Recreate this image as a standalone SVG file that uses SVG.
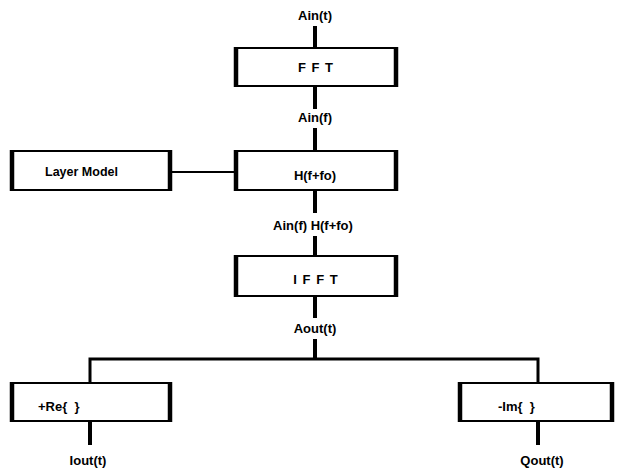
<svg xmlns="http://www.w3.org/2000/svg" width="618" height="472" viewBox="0 0 618 472">
<style>
.box{fill:#fff;stroke:#000;stroke-width:2}
.side{stroke:#000;stroke-width:4.5}
.wire{stroke:#000;stroke-width:4;fill:none}
.thin{stroke:#000;stroke-width:2;fill:none}
.mid{stroke:#000;stroke-width:3;fill:none}
text{font-family:"Liberation Sans",Arial,sans-serif;font-weight:bold;font-size:13px;fill:#000}
.c{text-anchor:middle}
</style>
<rect width="618" height="472" fill="#fff"/>
<g id="connectors">
<line class="wire" x1="315" y1="26" x2="315" y2="48"/>
<line class="wire" x1="315" y1="86" x2="315" y2="109"/>
<line class="wire" x1="315" y1="128" x2="315" y2="151"/>
<line class="wire" x1="315" y1="190" x2="315" y2="213"/>
<line class="wire" x1="315" y1="236" x2="315" y2="256"/>
<line class="wire" x1="315" y1="296" x2="315" y2="318"/>
<line class="wire" x1="315" y1="339" x2="315" y2="359"/>
<line class="thin" x1="172" y1="172" x2="234" y2="172"/>
<polyline class="mid" points="90,383 90,359 538,359 538,383"/>
<line class="wire" x1="90" y1="421" x2="90" y2="445"/>
<line class="wire" x1="538" y1="421" x2="538" y2="445"/>
<text class="c" x="315" y="20">Ain(t)</text>
<text class="c" x="315" y="122">Ain(f)</text>
<text class="c" x="313" y="230">Ain(f) H(f+fo)</text>
<text class="c" x="315" y="333">Aout(t)</text>
<text class="c" x="88" y="465">Iout(t)</text>
<text class="c" x="542" y="465">Qout(t)</text>
</g>
<g id="fft">
<rect class="box" x="236" y="48" width="160" height="38"/>
<line class="side" x1="236" y1="47" x2="236" y2="87"/>
<line class="side" x1="396" y1="47" x2="396" y2="87"/>
<text class="c" x="316" y="72" letter-spacing="1">F F T</text>
</g>
<g id="layer-model">
<rect class="box" x="12" y="151" width="158" height="39"/>
<line class="side" x1="12" y1="150" x2="12" y2="191"/>
<line class="side" x1="170" y1="150" x2="170" y2="191"/>
<text x="45" y="176" style="font-size:12.5px">Layer Model</text>
</g>
<g id="h">
<rect class="box" x="236" y="151" width="160" height="39"/>
<line class="side" x1="236" y1="150" x2="236" y2="191"/>
<line class="side" x1="396" y1="150" x2="396" y2="191"/>
<text class="c" x="315" y="180">H(f+fo)</text>
</g>
<g id="ifft">
<rect class="box" x="236" y="256" width="160" height="40"/>
<line class="side" x1="236" y1="255" x2="236" y2="297"/>
<line class="side" x1="396" y1="255" x2="396" y2="297"/>
<text class="c" x="316" y="284" letter-spacing="1">I F F T</text>
</g>
<g id="re">
<rect class="box" x="12" y="383" width="158" height="38"/>
<line class="side" x1="12" y1="382" x2="12" y2="422"/>
<line class="side" x1="170" y1="382" x2="170" y2="422"/>
<text x="38" y="411" xml:space="preserve">+Re{  }</text>
</g>
<g id="im">
<rect class="box" x="460" y="383" width="152" height="38"/>
<line class="side" x1="460" y1="382" x2="460" y2="422"/>
<line class="side" x1="612" y1="382" x2="612" y2="422"/>
<text x="498" y="411" xml:space="preserve">-Im{  }</text>
</g>
</svg>
